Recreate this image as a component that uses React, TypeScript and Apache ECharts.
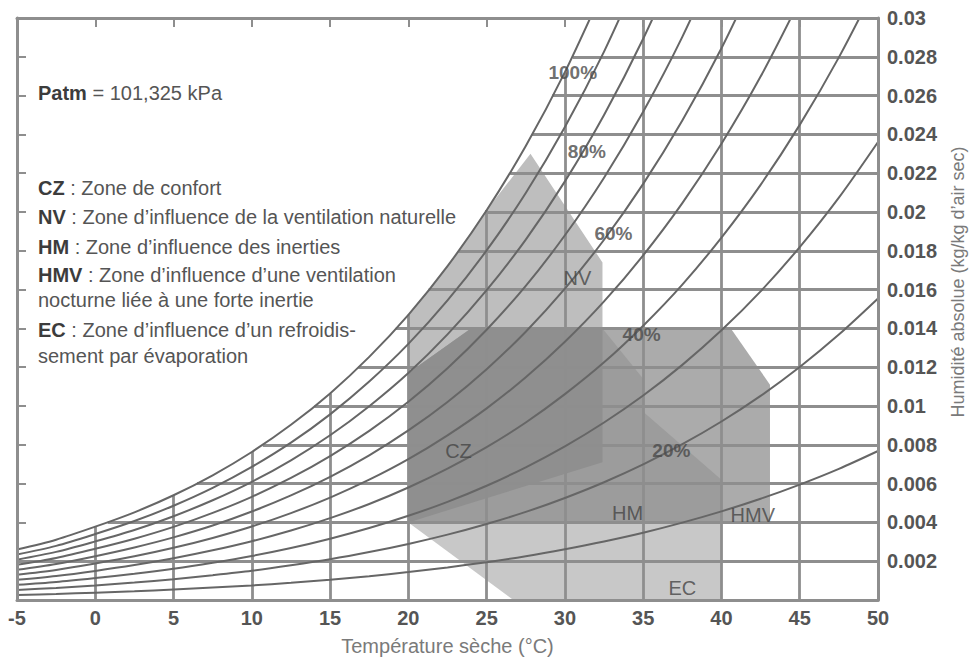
import React, { useEffect, useRef } from "react";
import * as echarts from "echarts";

const FONT = "'Liberation Sans', Arial, Helvetica, sans-serif";

// Dry-bulb temperatures (°C) at which the RH curves were read
const temps = [-5, -2.5, 0, 2.5, 5, 7.5, 10, 12.5, 15, 17.5, 20, 22.5, 25, 27.5, 30, 32.5, 35, 37.5, 40, 42.5, 45, 47.5, 50];

// Absolute humidity (kg/kg) of each relative-humidity curve
const rh100 = [0.0026, 0.00311, 0.00378, 0.00452, 0.0054, 0.00643, 0.00763, 0.00903, 0.01065, 0.01253, 0.0147, 0.01721, 0.02009, 0.0234, 0.02721, 0.03157];
const rh90 = [0.00234, 0.00279, 0.0034, 0.00407, 0.00486, 0.00578, 0.00686, 0.00811, 0.00957, 0.01126, 0.0132, 0.01544, 0.01802, 0.02098, 0.02438, 0.02827, 0.03273];
const rh80 = [0.00208, 0.00248, 0.00302, 0.00361, 0.00432, 0.00514, 0.00609, 0.0072, 0.00849, 0.00999, 0.0117, 0.01369, 0.01597, 0.01858, 0.02158, 0.025, 0.02893, 0.0334];
const rh70 = [0.00182, 0.00217, 0.00264, 0.00316, 0.00377, 0.00449, 0.00532, 0.00629, 0.00742, 0.00872, 0.01022, 0.01195, 0.01393, 0.01619, 0.0188, 0.02177, 0.02517, 0.02903, 0.03344];
const rh60 = [0.00156, 0.00186, 0.00226, 0.00271, 0.00323, 0.00384, 0.00456, 0.00539, 0.00635, 0.00746, 0.00874, 0.01021, 0.0119, 0.01383, 0.01605, 0.01857, 0.02145, 0.02472, 0.02844, 0.03267];
const rh50 = [0.0013, 0.00155, 0.00188, 0.00225, 0.00269, 0.0032, 0.00379, 0.00448, 0.00528, 0.0062, 0.00726, 0.00849, 0.00988, 0.01148, 0.01331, 0.01539, 0.01777, 0.02046, 0.02352, 0.02698, 0.03091];
const rh40 = [0.00104, 0.00124, 0.0015, 0.0018, 0.00215, 0.00256, 0.00303, 0.00358, 0.00422, 0.00495, 0.0058, 0.00677, 0.00788, 0.00915, 0.01061, 0.01225, 0.01414, 0.01626, 0.01868, 0.0214, 0.02449, 0.02797, 0.03189];
const rh30 = [0.00078, 0.00093, 0.00113, 0.00135, 0.00161, 0.00192, 0.00227, 0.00268, 0.00316, 0.00371, 0.00434, 0.00506, 0.00589, 0.00684, 0.00792, 0.00915, 0.01054, 0.01212, 0.0139, 0.01591, 0.01819, 0.02074, 0.02361];
const rh20 = [0.00052, 0.00062, 0.00075, 0.0009, 0.00107, 0.00128, 0.00151, 0.00179, 0.0021, 0.00247, 0.00289, 0.00337, 0.00392, 0.00454, 0.00526, 0.00607, 0.00699, 0.00803, 0.0092, 0.01052, 0.01201, 0.01368, 0.01554];
const rh10 = [0.00026, 0.00031, 0.00038, 0.00045, 0.00054, 0.00064, 0.00075, 0.00089, 0.00105, 0.00123, 0.00144, 0.00168, 0.00195, 0.00226, 0.00262, 0.00302, 0.00347, 0.00399, 0.00457, 0.00522, 0.00595, 0.00676, 0.00768];
const rhCurves = [rh100, rh90, rh80, rh70, rh60, rh50, rh40, rh30, rh20, rh10];

// Grid lines, stopped at the saturation curve
const vGridTemps = [0, 5, 10, 15, 20, 25, 30, 35, 40, 45];
const vGridTops = [0.00378, 0.0054, 0.00763, 0.01065, 0.0147, 0.0201, 0.0272, 0.03, 0.03, 0.03];
const hGridLevels = [0.002, 0.004, 0.006, 0.008, 0.01, 0.012, 0.014, 0.016, 0.018, 0.02, 0.022, 0.024, 0.026, 0.028];
const hGridStarts = [-5, 0.8, 6.5, 10.7, 14.0, 16.8, 19.2, 21.3, 23.2, 24.9, 26.5, 27.9, 29.2, 30.5];

// Zones (°C, kg/kg)
const zoneEC = [[20, 0.004], [26.7, 0], [40, 0], [40, 0.0062], [35, 0.0097]];
const zoneNV = [[20, 0.0041], [20, 0.0147], [22.5, 0.0172], [25, 0.0201], [27.8, 0.0230], [32.4, 0.0174], [32.4, 0.0071]];
const zoneHMV = [[20, 0.004], [20, 0.0117], [24, 0.014], [40.6, 0.014], [43.1, 0.0111], [43.1, 0.004]];
const zoneHM = [[20, 0.004], [20, 0.0117], [24, 0.014], [32.4, 0.014], [35, 0.0114], [35, 0.0097], [40, 0.0062], [40, 0.004]];
const zoneCZ = [[20, 0.004], [20, 0.0117], [24, 0.014], [32.4, 0.014], [32.4, 0.0071]];

// In-chart labels
const zoneLabelNames = ["CZ", "NV", "HM", "HMV", "EC"];
const zoneLabelT = [23.2, 30.8, 34.0, 42.0, 37.5];
const zoneLabelW = [0.0077, 0.0166, 0.0045, 0.0044, 0.0006];
const rhLabelNames = ["100%", "80%", "60%", "40%", "20%"];
const rhLabelT = [30.5, 31.4, 33.1, 34.9, 36.8];
const rhLabelW = [0.0272, 0.0231, 0.0189, 0.0137, 0.0077];

const legendLines = [
  { b: "Patm", t: " = 101,325 kPa" },
  { b: "CZ", t: " : Zone de confort" },
  { b: "NV", t: " : Zone d\u2019influence de la ventilation naturelle" },
  { b: "HM", t: " : Zone d\u2019influence des inerties" },
  { b: "HMV", t: " : Zone d\u2019influence d\u2019une ventilation" },
  { b: "", t: "nocturne li\u00e9e \u00e0 une forte inertie" },
  { b: "EC", t: " : Zone d\u2019influence d\u2019un refroidis-" },
  { b: "", t: "sement par \u00e9vaporation" },
];
const legendY = [93, 188, 217, 247, 275, 300, 330, 356];

function zoneSeries(name: string, pts: number[][], color: string) {
  return {
    type: "custom",
    name,
    z: 1,
    silent: true,
    data: [[0, 0]],
    encode: { x: 0, y: 1 },
    renderItem: (_p: any, api: any) => ({
      type: "polygon",
      shape: { points: pts.map((p) => api.coord(p)) },
      style: { fill: color },
    }),
  };
}

export default function App() {
  const ref = useRef<HTMLDivElement>(null);
  useEffect(() => {
    if (!ref.current) return;
    const chart = echarts.init(ref.current, undefined, { renderer: "svg" });
    const lineColor = "#8e8e8e";
    const option: any = {
      animation: false,
      backgroundColor: "#ffffff",
      textStyle: { fontFamily: FONT },
      grid: { left: 17, top: 18, width: 861, height: 585 },
      xAxis: [
        {
          type: "value",
          min: -5,
          max: 50,
          interval: 5,
          z: 5,
          axisLine: { show: true, onZero: false, lineStyle: { color: lineColor, width: 3 } },
          axisTick: { show: false },
          splitLine: { show: false },
          axisLabel: { fontSize: 20, fontWeight: "bold", color: "#555", margin: 8, fontFamily: FONT },
          name: "Temp\u00e9rature s\u00e8che (\u00b0C)",
          nameLocation: "middle",
          nameGap: 36,
          nameTextStyle: { fontSize: 20, color: "#7a7a7a", fontFamily: FONT },
        },
        {
          type: "value",
          position: "top",
          min: -5,
          max: 50,
          interval: 5,
          z: 5,
          axisLine: { show: true, onZero: false, lineStyle: { color: lineColor, width: 3 } },
          axisTick: { show: true, inside: true, length: 9, lineStyle: { color: lineColor, width: 2 } },
          axisLabel: { show: false },
          splitLine: { show: false },
        },
      ],
      yAxis: [
        {
          type: "value",
          position: "right",
          min: 0,
          max: 0.03,
          interval: 0.002,
          z: 5,
          axisLine: { show: true, onZero: false, lineStyle: { color: lineColor, width: 3 } },
          axisTick: { show: false },
          splitLine: { show: false },
          axisLabel: {
            fontSize: 20,
            fontWeight: "bold",
            color: "#555",
            margin: 9,
            fontFamily: FONT,
            formatter: (v: number) => (v === 0 ? "" : String(+v.toFixed(3))),
          },
        },
        {
          type: "value",
          position: "left",
          min: 0,
          max: 0.03,
          interval: 0.002,
          z: 5,
          axisLine: { show: true, onZero: false, lineStyle: { color: lineColor, width: 3 } },
          axisTick: { show: true, inside: true, length: 9, lineStyle: { color: lineColor, width: 2 } },
          axisLabel: { show: false },
          splitLine: { show: false },
        },
      ],
      series: [
        zoneSeries("EC", zoneEC, "#c8c8c8"),
        zoneSeries("NV", zoneNV, "#bebebe"),
        zoneSeries("HMV", zoneHMV, "#ababab"),
        zoneSeries("HM", zoneHM, "#9c9c9c"),
        zoneSeries("CZ", zoneCZ, "#8f8f8f"),
        {
          type: "lines",
          coordinateSystem: "cartesian2d",
          z: 2,
          silent: true,
          data: vGridTemps.map((t, i) => ({ coords: [[t, 0], [t, vGridTops[i]]] })),
          lineStyle: { color: lineColor, width: 2.8, opacity: 1 },
        },
        {
          type: "lines",
          coordinateSystem: "cartesian2d",
          z: 2,
          silent: true,
          data: hGridLevels.map((w, i) => ({ coords: [[hGridStarts[i], w], [50, w]] })),
          lineStyle: { color: lineColor, width: 2.8, opacity: 1 },
        },
        ...rhCurves.map((c, k) => ({
          type: "line",
          name: `${100 - k * 10}%`,
          z: 3,
          silent: true,
          symbol: "none",
          smooth: 0.3,
          clip: true,
          data: c.map((w, i) => [temps[i], w]),
          lineStyle: { color: "#666666", width: 2 },
        })),
        {
          type: "scatter",
          z: 6,
          silent: true,
          symbolSize: 1,
          itemStyle: { color: "rgba(0,0,0,0)" },
          data: zoneLabelNames.map((n, i) => ({ name: n, value: [zoneLabelT[i], zoneLabelW[i]] })),
          label: {
            show: true,
            position: "inside",
            formatter: (p: any) => p.name,
            fontSize: 20,
            color: "#454545",
            fontFamily: FONT,
          },
        },
        {
          type: "scatter",
          z: 6,
          silent: true,
          symbolSize: 1,
          itemStyle: { color: "rgba(0,0,0,0)" },
          data: rhLabelNames.map((n, i) => ({ name: n, value: [rhLabelT[i], rhLabelW[i]] })),
          label: {
            show: true,
            position: "inside",
            formatter: (p: any) => p.name,
            fontSize: 19,
            fontWeight: "bold",
            color: "#4a4a4a",
            fontFamily: FONT,
          },
        },
      ],
      graphic: [
        ...legendLines.map((l, i) => ({
          type: "text",
          x: 38,
          y: legendY[i],
          z: 10,
          silent: true,
          style: {
            text: l.b ? `{b|${l.b}}${l.t}` : l.t,
            rich: {
              b: { fontWeight: "bold", fontSize: 20, fontFamily: FONT, fill: "#3c3c3c" },
            },
            fontSize: 20,
            fontFamily: FONT,
            fill: "#555555",
            align: "left",
            verticalAlign: "middle",
          },
        })),
        {
          type: "text",
          x: 958,
          y: 282,
          rotation: Math.PI / 2,
          z: 10,
          silent: true,
          style: {
            text: "Humidit\u00e9 absolue (kg/kg d\u2019air sec)",
            fontSize: 18,
            fontFamily: FONT,
            fill: "#7a7a7a",
            align: "center",
            verticalAlign: "middle",
          },
        },
      ],
    };
    chart.setOption(option);
    return () => chart.dispose();
  }, []);
  return (
    <div
      ref={ref}
      style={{ position: "absolute", left: 0, top: 0, width: 974, height: 661, background: "#fff" }}
    />
  );
}
